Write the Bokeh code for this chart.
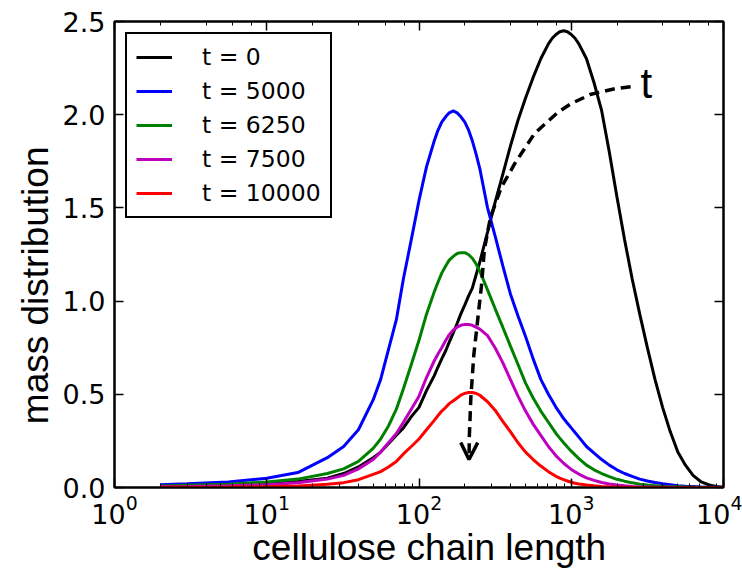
from bokeh.plotting import figure
from bokeh.models import (Range1d, LogAxis, LinearAxis, Legend, LegendItem, Arrow, OpenHead,
                          CustomJSTickFormatter, PrintfTickFormatter)
from bokeh.core.properties import value
from bokeh.embed import file_html
from bokeh.resources import INLINE

# chain length grid (x values)
chain_length = [2, 3, 5.6, 10, 16, 25, 32, 40, 50, 56, 63, 71, 79, 89, 100, 112, 126,
                133, 141, 150, 158, 168, 178, 188, 200, 211, 224, 237, 251,
                282, 316, 355, 398, 447, 501, 562, 631, 708,
                750, 794, 841, 891, 944, 1000, 1059, 1122,
                1259, 1413, 1585, 1778, 1995, 2239, 2512, 2818, 3162, 3548, 3981, 4467, 5012, 5623,
                6310, 7079, 7943, 8913, 10000]

t0 = [0.004, 0.007, 0.012, 0.02, 0.032, 0.05, 0.075, 0.11, 0.16, 0.19, 0.235, 0.28, 0.32, 0.38, 0.43, 0.52, 0.60,
      0.645, 0.69, 0.735, 0.78, 0.83, 0.88, 0.93, 0.98, 1.025, 1.07, 1.14, 1.21,
      1.37, 1.53, 1.68, 1.83, 1.97, 2.09, 2.20, 2.30, 2.38,
      2.41, 2.43, 2.445, 2.45, 2.445, 2.43, 2.41, 2.38,
      2.30, 2.17, 2.02, 1.80, 1.56, 1.33, 1.12, 0.93, 0.75, 0.58, 0.43, 0.30, 0.19, 0.12, 0.065, 0.032,
      0.015, 0.006, 0.002]

t5000 = [0.015, 0.02, 0.03, 0.05, 0.08, 0.16, 0.22, 0.31, 0.47, 0.58, 0.74, 0.90, 1.12, 1.33, 1.54, 1.72, 1.86,
         1.915, 1.96, 1.99, 2.01, 2.02, 2.01, 1.99, 1.96, 1.92, 1.86, 1.79, 1.71,
         1.50, 1.35, 1.19, 1.04, 0.92, 0.81, 0.69, 0.58, 0.50,
         0.465, 0.43, 0.40, 0.37, 0.345, 0.32, 0.295, 0.27,
         0.22, 0.185, 0.15, 0.12, 0.095, 0.075, 0.06, 0.045, 0.035, 0.027, 0.02, 0.015, 0.01, 0.007,
         0.005, 0.003, 0.002, 0.001, 0.001]

t6250 = [0.008, 0.012, 0.018, 0.03, 0.045, 0.075, 0.10, 0.14, 0.21, 0.26, 0.33, 0.42, 0.53, 0.66, 0.79, 0.93, 1.05,
         1.10, 1.15, 1.19, 1.22, 1.24, 1.255, 1.26, 1.26, 1.25, 1.23, 1.20, 1.16,
         1.06, 0.96, 0.86, 0.76, 0.66, 0.56, 0.48, 0.41, 0.35,
         0.32, 0.29, 0.265, 0.24, 0.217, 0.195, 0.175, 0.155,
         0.12, 0.095, 0.075, 0.058, 0.044, 0.034, 0.025, 0.018, 0.013, 0.01, 0.007, 0.005, 0.004, 0.003,
         0.002, 0.001, 0.001, 0.0, 0.0]

t7500 = [0.004, 0.006, 0.01, 0.015, 0.025, 0.045, 0.065, 0.10, 0.15, 0.19, 0.24, 0.29, 0.35, 0.42, 0.49, 0.59, 0.68,
         0.715, 0.75, 0.79, 0.82, 0.845, 0.86, 0.87, 0.875, 0.875, 0.87, 0.86, 0.85,
         0.815, 0.75, 0.67, 0.58, 0.49, 0.41, 0.34, 0.28, 0.22,
         0.195, 0.17, 0.15, 0.13, 0.113, 0.097, 0.084, 0.072,
         0.052, 0.038, 0.027, 0.019, 0.013, 0.009, 0.006, 0.004, 0.003, 0.002, 0.001, 0.001, 0.0, 0.0,
         0.0, 0.0, 0.0, 0.0, 0.0]

t10000 = [0.001, 0.002, 0.003, 0.005, 0.008, 0.017, 0.026, 0.042, 0.07, 0.085, 0.11, 0.14, 0.18, 0.22, 0.26, 0.31, 0.36,
          0.385, 0.41, 0.43, 0.45, 0.465, 0.48, 0.495, 0.505, 0.51, 0.51, 0.505, 0.495,
          0.46, 0.415, 0.355, 0.30, 0.24, 0.19, 0.15, 0.115, 0.085,
          0.072, 0.06, 0.05, 0.042, 0.035, 0.028, 0.023, 0.019,
          0.013, 0.009, 0.006, 0.004, 0.003, 0.002, 0.001, 0.0, 0.0, 0.0, 0.0, 0.0, 0.0, 0.0,
          0.0, 0.0, 0.0, 0.0, 0.0]

series_labels = ["t = 0", "t = 5000", "t = 6250", "t = 7500", "t = 10000"]
series_colors = ["#000000", "#0000ff", "#008000", "#bf00bf", "#ff0000"]

# time arrow path (annotation)
arrow_x = [2455, 1950, 1350, 1000, 810, 575, 427, 347, 295, 269, 257, 229, 219, 214, 213]
arrow_y = [2.15, 2.14, 2.11, 2.06, 2.01, 1.90, 1.74, 1.61, 1.45, 1.28, 1.08, 0.71, 0.48, 0.27, 0.15]
arrow_label = ["t"]
arrow_label_x = [2850]
arrow_label_y = [2.17]

NBSP = "\u00a0"

p = figure(width=742, height=570, x_axis_type="log", output_backend="svg", toolbar_location=None,
           x_range=Range1d(1, 10000), y_range=Range1d(0, 2.5),
           min_border_left=114, min_border_right=19, min_border_top=21, min_border_bottom=80)
p.xgrid.visible = False
p.ygrid.visible = False
p.outline_line_color = "black"
p.outline_line_width = 2
p.outline_line_alpha = 1
p.background_fill_color = "white"
p.border_fill_color = "white"

renderers = []
for ys, c in zip([t0, t5000, t6250, t7500, t10000], series_colors):
    r = p.line(chain_length, ys, line_color=c, line_width=3)
    renderers.append(r)

# dashed arrow
p.line(arrow_x, arrow_y, line_color="black", line_width=3.5, line_dash="10 6")
p.add_layout(Arrow(end=OpenHead(size=17, line_width=3.5, line_color="black"),
                   x_start=arrow_x[-2], y_start=arrow_y[-2], x_end=arrow_x[-1], y_end=arrow_y[-1],
                   line_alpha=0))
p.text(arrow_label_x, arrow_label_y, text=arrow_label, text_font=value("Liberation Sans"),
       text_font_size="42px", text_align="left", text_baseline="alphabetic", text_color="black")

# axes styling
for ax in [p.xaxis[0], p.yaxis[0]]:
    ax.axis_line_color = "black"
    ax.axis_line_width = 2
    ax.major_tick_in = 9
    ax.major_tick_out = 0
    ax.major_tick_line_width = 1.5
    ax.major_tick_line_color = "black"
    ax.minor_tick_in = 4
    ax.minor_tick_out = 0
    ax.minor_tick_line_color = "black"
    ax.major_label_text_font = "DejaVu Sans"
    ax.major_label_text_font_size = "27px"
    ax.major_label_text_color = "black"
    ax.axis_label_text_font = "Liberation Sans"
    ax.axis_label_text_font_size = "37px"
    ax.axis_label_text_font_style = "normal"
    ax.axis_label_text_color = "black"

p.xaxis.axis_label = NBSP * 2 + "cellulose chain length"
p.yaxis.axis_label = "mass distribution" + NBSP * 6
p.xaxis.major_label_standoff = 7
p.xaxis.axis_label_standoff = 0
p.yaxis.major_label_standoff = 9
p.yaxis.axis_label_standoff = 4
p.yaxis.minor_tick_line_color = None
p.yaxis.ticker.desired_num_ticks = 6
p.yaxis.formatter = PrintfTickFormatter(format="%.1f")

blank = CustomJSTickFormatter(code="return ''")
top = LogAxis(formatter=blank, major_tick_in=9, major_tick_out=0, minor_tick_in=4, minor_tick_out=0,
              axis_line_color="black", axis_line_width=2, major_label_standoff=0,
              major_tick_line_color="black", minor_tick_line_color="black", major_tick_line_width=1.5,
              major_label_text_font_size="1px")
right = LinearAxis(formatter=blank, major_tick_in=9, major_tick_out=0, minor_tick_line_color=None,
                   axis_line_color="black", axis_line_width=2, major_label_standoff=0,
                   major_tick_line_color="black", major_tick_line_width=1.5,
                   major_label_text_font_size="1px")
right.ticker.desired_num_ticks = 6
p.add_layout(top, "above")
p.add_layout(right, "right")

legend = Legend(items=[LegendItem(label=l, renderers=[r]) for l, r in zip(series_labels, renderers)],
                location="top_left")
legend.margin = 11
legend.padding = 9
legend.spacing = 6
legend.glyph_width = 36
legend.label_standoff = 30
legend.label_text_font = "DejaVu Sans"
legend.label_text_font_size = "23.5px"
legend.label_text_color = "black"
legend.border_line_color = "black"
legend.border_line_width = 2
legend.border_line_alpha = 1
legend.background_fill_alpha = 1
p.add_layout(legend, "center")

open("out.html", "w").write(file_html(p, INLINE))
